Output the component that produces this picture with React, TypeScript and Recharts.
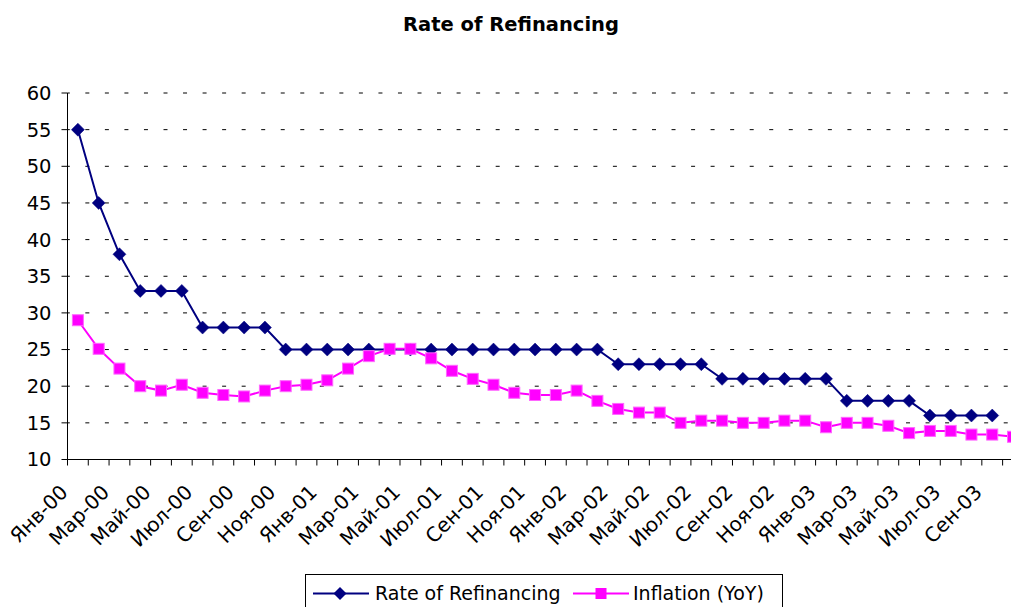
import React from "react";
import { LineChart, Line, XAxis, YAxis, CartesianGrid } from "recharts";

const categories = [
  "Янв-00","Фев-00","Мар-00","Апр-00","Май-00","Июн-00","Июл-00","Авг-00","Сен-00","Окт-00","Ноя-00","Дек-00",
  "Янв-01","Фев-01","Мар-01","Апр-01","Май-01","Июн-01","Июл-01","Авг-01","Сен-01","Окт-01","Ноя-01","Дек-01",
  "Янв-02","Фев-02","Мар-02","Апр-02","Май-02","Июн-02","Июл-02","Авг-02","Сен-02","Окт-02","Ноя-02","Дек-02",
  "Янв-03","Фев-03","Мар-03","Апр-03","Май-03","Июн-03","Июл-03","Авг-03","Сен-03","Окт-03",
];

const rateOfRefinancing = [
  55, 45, 38, 33, 33, 33, 28, 28, 28, 28, 25, 25,
  25, 25, 25, 25, 25, 25, 25, 25, 25, 25, 25, 25,
  25, 25, 23, 23, 23, 23, 23, 21, 21, 21, 21, 21,
  21, 18, 18, 18, 18, 16, 16, 16, 16,
];

const inflationYoY = [
  29.0, 25.1, 22.4, 20.0, 19.4, 20.2, 19.1, 18.8, 18.6, 19.4, 20.0, 20.2,
  20.8, 22.4, 24.1, 25.1, 25.1, 23.8, 22.1, 21.0, 20.2, 19.1, 18.8, 18.8,
  19.4, 18.0, 16.9, 16.4, 16.4, 15.0, 15.3, 15.3, 15.0, 15.0, 15.3, 15.3,
  14.4, 15.0, 15.0, 14.6, 13.6, 13.9, 13.9, 13.4, 13.4, 13.1,
];

const yTicks = [10, 15, 20, 25, 30, 35, 40, 45, 50, 55, 60];

const FONT = "'DejaVu Sans', Verdana, sans-serif";
const NAVY = "#000080";
const MAGENTA = "#FF00FF";

const data = categories.map((c, i) => ({
  x: i + 0.5,
  name: c,
  rate: i < rateOfRefinancing.length ? rateOfRefinancing[i] : null,
  infl: i < inflationYoY.length ? inflationYoY[i] : null,
}));

const xTicks = Array.from({ length: categories.length + 1 }, (_, i) => i);

const Diamond = (props: any) => {
  const { cx, cy } = props;
  if (cx == null || cy == null || props.value == null) return <g />;
  const r = 6.5;
  return (
    <polygon
      points={`${cx},${cy - r} ${cx + r},${cy} ${cx},${cy + r} ${cx - r},${cy}`}
      fill={NAVY}
      stroke={NAVY}
      strokeWidth={0.5}
    />
  );
};

const Square = (props: any) => {
  const { cx, cy } = props;
  if (cx == null || cy == null || props.value == null) return <g />;
  const h = 5.5;
  return (
    <rect x={cx - h} y={cy - h} width={2 * h} height={2 * h} fill={MAGENTA} stroke="#FF66FF" strokeWidth={1} />
  );
};

const XTick = (props: any) => {
  const { x, y, payload } = props;
  const v = payload.value;
  if (v % 2 !== 0 || v >= categories.length) return <g />;
  const label = categories[v];
  const ax = x + 1.5;
  const ay = y + 28;
  return (
    <text
      x={ax}
      y={ay}
      textAnchor="end"
      transform={`rotate(-45, ${ax}, ${ay})`}
      fill="#000"
      fontSize={20}
      fontFamily={FONT}
    >
      {label}
    </text>
  );
};

export default function App() {
  return (
    <div
      style={{
        position: "absolute",
        left: 0,
        top: 0,
        width: 1011,
        height: 607,
        overflow: "hidden",
        background: "#fff",
        fontFamily: FONT,
      }}
    >
      <LineChart
        width={1040}
        height={640}
        data={data}
        margin={{ top: 93, right: 16.6, bottom: 120.5, left: 0 }}
      >
        <CartesianGrid
          horizontal={true}
          vertical={false}
          stroke="#000"
          strokeDasharray="4 15.54"
          strokeDashoffset={1.7}
        />
        <XAxis
          type="number"
          dataKey="x"
          domain={[0, categories.length]}
          ticks={xTicks}
          interval={0}
          tickSize={6}
          tickMargin={0}
          height={60}
          axisLine={{ stroke: "#000", strokeWidth: 1 }}
          tickLine={{ stroke: "#000", strokeWidth: 1 }}
          tick={<XTick />}
          allowDataOverflow
        />
        <YAxis
          type="number"
          domain={[10, 60]}
          ticks={yTicks}
          interval={0}
          width={67.5}
          tickSize={6}
          tickMargin={10}
          axisLine={{ stroke: "#000", strokeWidth: 1 }}
          tickLine={{ stroke: "#000", strokeWidth: 1 }}
          tick={{ fill: "#000", fontSize: 19.5, fontFamily: FONT }}
          allowDataOverflow
        />
        <Line
          type="linear"
          dataKey="rate"
          stroke={NAVY}
          strokeWidth={2}
          dot={<Diamond />}
          activeDot={false}
          isAnimationActive={false}
        />
        <Line
          type="linear"
          dataKey="infl"
          stroke={MAGENTA}
          strokeWidth={2}
          dot={<Square />}
          activeDot={false}
          isAnimationActive={false}
        />
      </LineChart>

      <div
        style={{
          position: "absolute",
          left: 0,
          top: 14,
          width: 1022,
          textAlign: "center",
          fontWeight: "bold",
          fontSize: 19.5,
          lineHeight: "22px",
          color: "#000",
        }}
      >
        Rate of Refinancing
      </div>

      <div
        style={{
          position: "absolute",
          left: 305,
          top: 574,
          width: 476,
          height: 45,
          border: "1px solid #000",
          background: "#fff",
        }}
      >
        <svg width={476} height={45} style={{ position: "absolute", left: 0, top: 0 }}>
          <line x1={7} y1={18.5} x2={63} y2={18.5} stroke={NAVY} strokeWidth={2} />
          <polygon points="34,12 40.5,18.5 34,25 27.5,18.5" fill={NAVY} />
          <line x1={267} y1={18.5} x2={323} y2={18.5} stroke={MAGENTA} strokeWidth={2} />
          <rect x={289.5} y={13} width={11} height={11} fill={MAGENTA} />
        </svg>
        <div style={{ position: "absolute", left: 69, top: 7, fontSize: 19, lineHeight: "22px", whiteSpace: "nowrap" }}>
          Rate of Refinancing
        </div>
        <div style={{ position: "absolute", left: 327, top: 7, fontSize: 19, lineHeight: "22px", whiteSpace: "nowrap" }}>
          Inflation (YoY)
        </div>
      </div>
    </div>
  );
}
